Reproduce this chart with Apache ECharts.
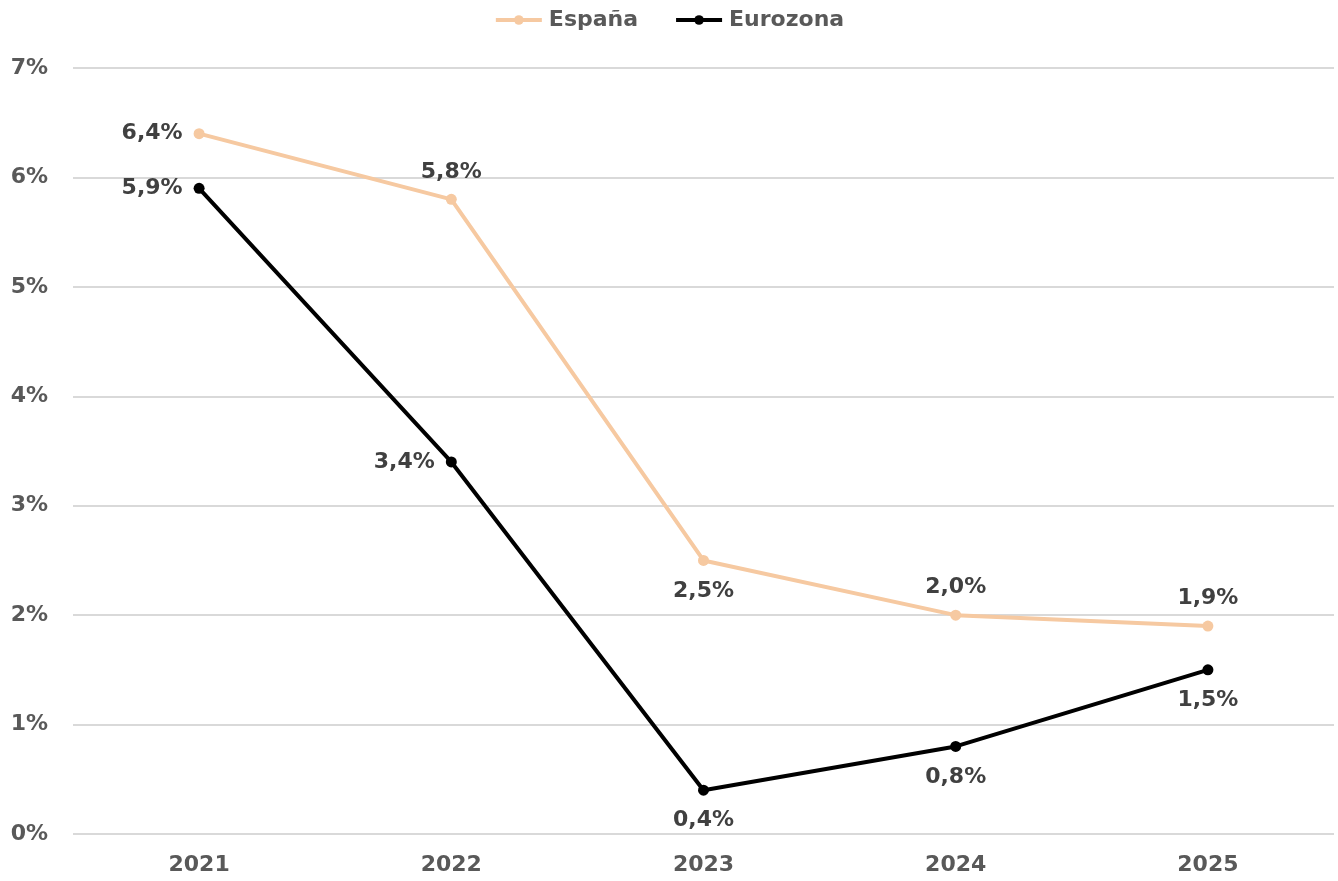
<!DOCTYPE html>
<html>
<head>
<meta charset="utf-8">
<script src="https://cdn.jsdelivr.net/npm/echarts@6/dist/echarts.min.js"></script>
<style>
  html, body { margin: 0; padding: 0; background: #fff; }
  #chart { width: 1338px; height: 881px; }
</style>
</head>
<body>
<div id="chart"></div>
<script>
var years = ['2021', '2022', '2023', '2024', '2025'];
var espana = [6.4, 5.8, 2.5, 2.0, 1.9];
var eurozona = [5.9, 3.4, 0.4, 0.8, 1.5];
var espanaPos = ['left', 'top', 'bottom', 'top', 'top'];
var eurozonaPos = ['left', 'left', 'bottom', 'bottom', 'bottom'];

var font = 'DejaVu Sans';

function pct(v) {
  return v.toFixed(1).replace('.', ',') + '%';
}

function build(values, pos) {
  return values.map(function (v, i) {
    return { value: v, label: { position: pos[i], distance: pos[i] === 'bottom' ? 14 : 11 } };
  });
}

var myChart = echarts.init(document.getElementById('chart'));
var labelStyle = {
  show: true,
  distance: 11,
  fontFamily: font,
  fontWeight: 'bold',
  fontSize: 22,
  color: '#404040',
  formatter: function (p) { return pct(p.value); }
};
var option = {
  animation: false,
  legend: {
    top: 4,
    left: 'center',
    itemWidth: 46,
    itemHeight: 12,
    itemGap: 36,
    lineStyle: { width: 4 },
    textStyle: { fontFamily: font, fontWeight: 'bold', fontSize: 22, color: '#595959', padding: [0, 0, 0, 2] },
    data: ['España', 'Eurozona']
  },
  grid: { left: 73, right: 4, top: 68, bottom: 47, containLabel: false },
  xAxis: {
    type: 'category',
    data: years,
    boundaryGap: true,
    axisLine: { show: false },
    axisTick: { show: false },
    axisLabel: { margin: 20, fontFamily: font, fontWeight: 'bold', fontSize: 22, color: '#595959' }
  },
  yAxis: {
    type: 'value',
    min: 0,
    max: 7,
    interval: 1,
    axisLine: { show: false },
    axisTick: { show: false },
    splitLine: { lineStyle: { color: '#d9d9d9', width: 2 } },
    axisLabel: {
      margin: 25,
      align: 'right',
      fontFamily: font, fontWeight: 'bold', fontSize: 22, color: '#595959',
      formatter: function (v) { return v + '%'; }
    }
  },
  series: [{
    name: 'España',
    type: 'line',
    data: build(espana, espanaPos),
    symbol: 'circle',
    symbolSize: 11,
    lineStyle: { color: '#F6C9A1', width: 4 },
    itemStyle: { color: '#F6C9A1' },
    label: labelStyle
  }, {
    name: 'Eurozona',
    type: 'line',
    data: build(eurozona, eurozonaPos),
    symbol: 'circle',
    symbolSize: 11,
    lineStyle: { color: '#000000', width: 4 },
    itemStyle: { color: '#000000' },
    label: labelStyle
  }]
};
myChart.setOption(option);
</script>
</body>
</html>
